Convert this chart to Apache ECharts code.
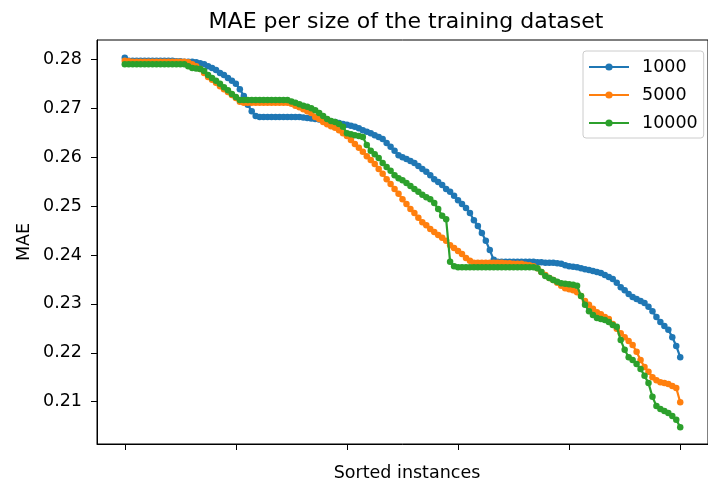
<!DOCTYPE html>
<html>
<head>
<meta charset="utf-8">
<script src="https://cdn.jsdelivr.net/npm/echarts@6/dist/echarts.min.js"></script>
<style>html,body{margin:0;padding:0;background:#fff;}#chart{width:708px;height:488px;}</style>
</head>
<body>
<div id="chart"></div>
<script>
const titleText = 'MAE per size of the training dataset';
const xLabel = 'Sorted instances';
const yLabel = 'MAE';
const seriesNames = ['1000', '5000', '10000'];
const yTicks = [0.21, 0.22, 0.23, 0.24, 0.25, 0.26, 0.27, 0.28];
const xTicks = [0, 28, 56, 84, 112, 140];

const mae1000 = [
0.2803,0.2797,0.2797,0.2797,0.2797,0.2797,0.2797,0.2797,0.2797,0.2797,
0.2797,0.2797,0.2797,0.2796,0.2796,0.2795,0.2795,0.2795,0.2794,0.2792,
0.2790,0.2786,0.2782,0.2778,0.2772,0.2768,0.2762,0.2756,0.2750,0.2739,
0.2725,0.2707,0.2694,0.2684,0.2682,0.2682,0.2682,0.2682,0.2682,0.2682,
0.2682,0.2682,0.2682,0.2682,0.2682,0.2681,0.2680,0.2679,0.2678,0.2677,
0.2676,0.2674,0.2672,0.2672,0.2670,0.2668,0.2666,0.2664,0.2662,0.2659,
0.2655,0.2652,0.2649,0.2645,0.2641,0.2637,0.2629,0.2621,0.2613,0.2604,
0.2600,0.2596,0.2592,0.2588,0.2582,0.2576,0.2570,0.2563,0.2555,0.2549,
0.2543,0.2535,0.2529,0.2521,0.2512,0.2504,0.2496,0.2486,0.2471,0.2459,
0.2445,0.2429,0.2410,0.2390,0.2386,0.2386,0.2386,0.2386,0.2386,0.2386,
0.2386,0.2386,0.2386,0.2386,0.2385,0.2385,0.2384,0.2384,0.2384,0.2383,
0.2382,0.2379,0.2377,0.2376,0.2375,0.2373,0.2371,0.2369,0.2367,0.2365,
0.2363,0.2359,0.2355,0.2351,0.2343,0.2334,0.2328,0.2320,0.2314,0.2310,
0.2306,0.2302,0.2294,0.2285,0.2273,0.2263,0.2255,0.2247,0.2232,0.2214,
0.2191
];
const mae5000 = [
0.2797,0.2796,0.2795,0.2795,0.2795,0.2795,0.2795,0.2795,0.2795,0.2795,
0.2795,0.2795,0.2795,0.2795,0.2795,0.2795,0.2794,0.2790,0.2786,0.2780,
0.2772,0.2764,0.2758,0.2752,0.2745,0.2739,0.2733,0.2727,0.2721,0.2713,
0.2711,0.2711,0.2711,0.2711,0.2711,0.2711,0.2711,0.2711,0.2711,0.2711,
0.2711,0.2711,0.2709,0.2705,0.2702,0.2698,0.2694,0.2690,0.2682,0.2678,
0.2672,0.2667,0.2663,0.2660,0.2655,0.2649,0.2643,0.2635,0.2627,0.2619,
0.2611,0.2602,0.2594,0.2586,0.2576,0.2566,0.2555,0.2545,0.2535,0.2525,
0.2514,0.2504,0.2494,0.2486,0.2476,0.2467,0.2461,0.2453,0.2447,0.2441,
0.2435,0.2429,0.2420,0.2414,0.2408,0.2402,0.2394,0.2388,0.2384,0.2384,
0.2384,0.2384,0.2384,0.2384,0.2384,0.2384,0.2383,0.2383,0.2382,0.2382,
0.2382,0.2380,0.2379,0.2377,0.2373,0.2365,0.2359,0.2353,0.2349,0.2343,
0.2337,0.2332,0.2330,0.2328,0.2324,0.2316,0.2306,0.2298,0.2290,0.2283,
0.2279,0.2273,0.2269,0.2259,0.2249,0.2240,0.2232,0.2224,0.2216,0.2202,
0.2185,0.2171,0.2161,0.2150,0.2144,0.2140,0.2138,0.2136,0.2132,0.2128,
0.2099
];
const mae10000 = [
0.2790,0.2790,0.2790,0.2790,0.2790,0.2790,0.2790,0.2790,0.2790,0.2790,
0.2790,0.2790,0.2790,0.2790,0.2790,0.2790,0.2786,0.2782,0.2781,0.2780,
0.2776,0.2768,0.2762,0.2756,0.2750,0.2743,0.2737,0.2729,0.2723,0.2717,
0.2717,0.2717,0.2717,0.2717,0.2717,0.2717,0.2717,0.2717,0.2717,0.2717,
0.2717,0.2717,0.2714,0.2711,0.2708,0.2705,0.2703,0.2700,0.2696,0.2690,
0.2684,0.2678,0.2674,0.2672,0.2668,0.2662,0.2649,0.2647,0.2645,0.2643,
0.2641,0.2625,0.2613,0.2606,0.2598,0.2588,0.2580,0.2572,0.2563,0.2557,
0.2553,0.2547,0.2541,0.2535,0.2529,0.2523,0.2518,0.2514,0.2506,0.2494,
0.2480,0.2473,0.2386,0.2377,0.2375,0.2375,0.2375,0.2375,0.2375,0.2375,
0.2375,0.2375,0.2375,0.2375,0.2375,0.2375,0.2375,0.2375,0.2375,0.2375,
0.2375,0.2375,0.2375,0.2375,0.2373,0.2365,0.2357,0.2353,0.2349,0.2345,
0.2342,0.2341,0.2340,0.2339,0.2337,0.2316,0.2298,0.2285,0.2277,0.2271,
0.2269,0.2267,0.2263,0.2257,0.2253,0.2226,0.2206,0.2191,0.2185,0.2177,
0.2167,0.2153,0.2138,0.2110,0.2091,0.2085,0.2081,0.2077,0.2071,0.2063,
0.2048
];

const colors = ['#1f77b4', '#ff7f0e', '#2ca02c'];
const allSeries = [mae1000, mae5000, mae10000];
const FONT = 'DejaVu Sans';

const chart = echarts.init(document.getElementById('chart'), null, {renderer: 'canvas'});
const option = {
  animation: false,
  backgroundColor: '#fff',
  color: colors,
  grid: {left: 97, top: 40, width: 620, height: 404, show: true, borderColor: '#000', borderWidth: 1, backgroundColor: 'transparent', containLabel: false},
  xAxis: {
    type: 'value', min: -7, max: 147, position: 'bottom',
    axisLine: {show: true, onZero: false, lineStyle: {color: '#000', width: 1}},
    axisTick: {show: true, inside: false, length: 6, lineStyle: {color: '#000', width: 1}, customValues: xTicks},
    axisLabel: {show: false},
    splitLine: {show: false}
  },
  yAxis: {
    type: 'value', min: 0.20135, max: 0.28395, position: 'left',
    axisLine: {show: true, onZero: false, lineStyle: {color: '#000', width: 1}},
    axisTick: {show: true, inside: false, length: 6, lineStyle: {color: '#000', width: 1}, customValues: yTicks},
    axisLabel: {show: true, customValues: yTicks, margin: 15, color: '#000', fontFamily: FONT, fontSize: 17.5,
      formatter: v => v.toFixed(2)},
    splitLine: {show: false}
  },
  legend: {
    orient: 'vertical', left: 583, top: 51,
    padding: [7, 6, 6, 5], itemGap: 10, itemWidth: 40, itemHeight: 9,
    borderColor: '#cccccc', borderWidth: 1, borderRadius: 3, backgroundColor: 'rgba(255,255,255,0.8)',
    formatter: name => '{a|' + name + '}',
    textStyle: {fontFamily: FONT, fontSize: 17.5, color: '#000',
      rich: {a: {fontFamily: FONT, fontSize: 17.5, color: '#000', padding: [0, 0, 0, 8]}}},
    data: seriesNames
  },
  graphic: [
    {type: 'text', x: 406, y: 22, style: {text: titleText, textAlign: 'center', textVerticalAlign: 'middle', fontFamily: FONT, fontSize: 22, fill: '#000'}},
    {type: 'text', x: 407, y: 473, style: {text: xLabel, textAlign: 'center', textVerticalAlign: 'middle', fontFamily: FONT, fontSize: 17.5, fill: '#000'}},
    {type: 'text', x: 24, y: 242, rotation: Math.PI / 2, style: {text: yLabel, textAlign: 'center', textVerticalAlign: 'middle', fontFamily: FONT, fontSize: 17.5, fill: '#000'}}
  ],
  series: allSeries.map((vals, k) => ({
    name: seriesNames[k],
    type: 'line',
    data: vals.map((v, i) => [i, v]),
    symbol: 'circle', symbolSize: 6.5, showSymbol: true,
    lineStyle: {width: 2.2, color: colors[k]},
    itemStyle: {color: colors[k]},
    emphasis: {disabled: true},
    z: 2 + k
  }))
};
chart.setOption(option);
</script>
</body>
</html>
